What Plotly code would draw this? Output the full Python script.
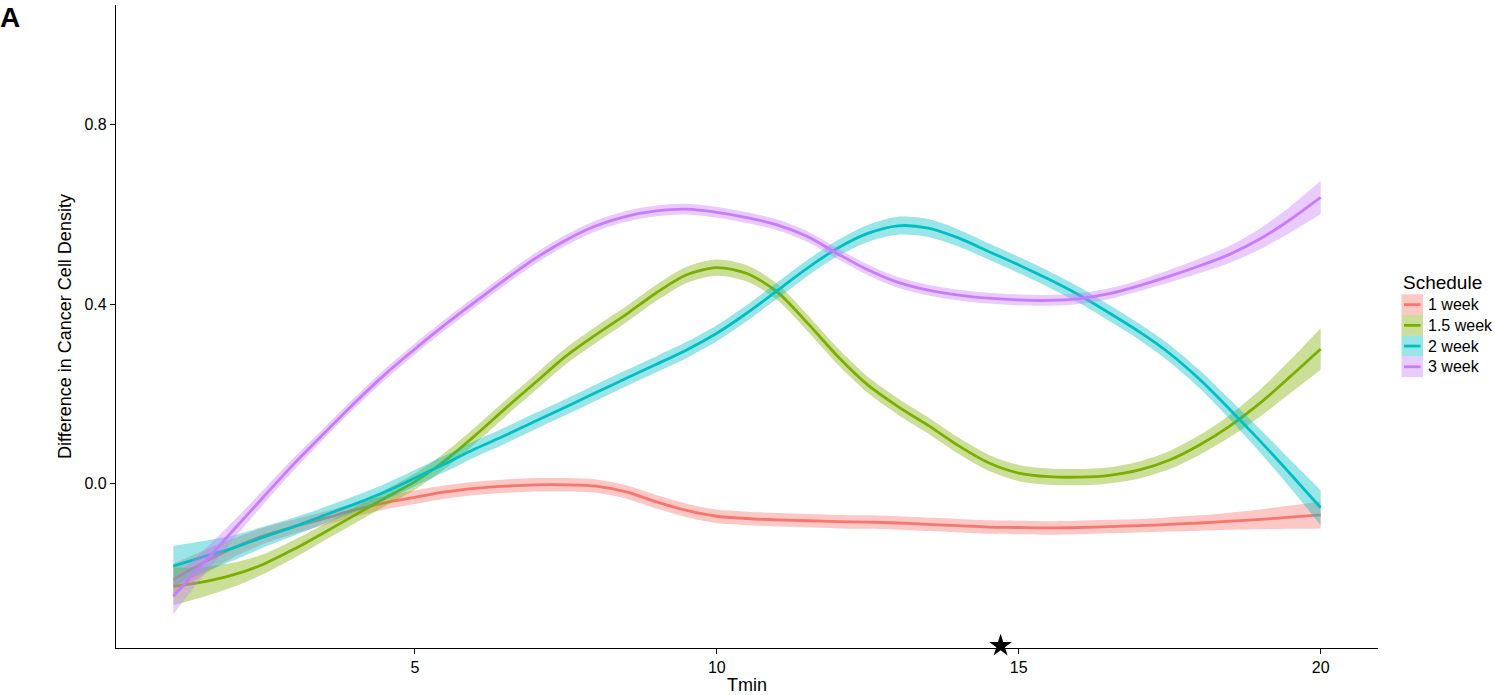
import plotly.graph_objects as go

# ---- data: smoothed difference in cancer cell density vs Tmin, per schedule ----
tmin = [1.0, 1.5, 2.0, 2.5, 3.0, 3.5, 4.0, 4.5, 5.0, 5.5, 6.0, 6.5, 7.0, 7.5,
        8.0, 8.5, 9.0, 9.5, 10.0, 10.5, 11.0, 11.5, 12.0, 12.5, 13.0, 13.5,
        14.0, 14.5, 15.0, 15.5, 16.0, 16.5, 17.0, 17.5, 18.0, 18.5, 19.0,
        19.5, 20.0]

schedules = ["1 week", "1.5 week", "2 week", "3 week"]

fit_1wk = [-0.213, -0.175, -0.142, -0.115, -0.095, -0.077, -0.058, -0.042,
           -0.030, -0.018, -0.010, -0.005, -0.002, -0.002, -0.005, -0.018,
           -0.040, -0.059, -0.072, -0.077, -0.080, -0.082, -0.084, -0.085,
           -0.087, -0.090, -0.093, -0.096, -0.097, -0.098, -0.097, -0.095,
           -0.093, -0.090, -0.087, -0.083, -0.079, -0.074, -0.069]
fit_15wk = [-0.228, -0.218, -0.202, -0.178, -0.145, -0.108, -0.070, -0.032,
            0.005, 0.052, 0.108, 0.168, 0.226, 0.284, 0.332, 0.377, 0.425,
            0.465, 0.481, 0.468, 0.427, 0.358, 0.284, 0.220, 0.172, 0.130,
            0.085, 0.047, 0.024, 0.016, 0.015, 0.019, 0.031, 0.053, 0.087,
            0.129, 0.180, 0.239, 0.300]
fit_2wk = [-0.183, -0.162, -0.142, -0.118, -0.095, -0.070, -0.045, -0.018,
           0.013, 0.045, 0.078, 0.108, 0.140, 0.171, 0.203, 0.235, 0.266,
           0.298, 0.335, 0.380, 0.430, 0.480, 0.524, 0.557, 0.574, 0.569,
           0.547, 0.517, 0.487, 0.455, 0.420, 0.380, 0.338, 0.290, 0.232,
           0.165, 0.095, 0.022, -0.053]
fit_3wk = [-0.250, -0.176, -0.102, -0.028, 0.045, 0.113, 0.180, 0.243,
           0.300, 0.354, 0.405, 0.455, 0.502, 0.542, 0.574, 0.595, 0.607,
           0.611, 0.604, 0.592, 0.576, 0.550, 0.512, 0.476, 0.448, 0.431,
           0.420, 0.413, 0.409, 0.408, 0.412, 0.423, 0.441, 0.462, 0.485,
           0.511, 0.545, 0.588, 0.637]

# half-widths of the confidence bands
se_1wk = [0.035, 0.027, 0.021, 0.018, 0.016, 0.015, 0.015, 0.015, 0.015,
          0.015, 0.015, 0.015, 0.015, 0.015, 0.015, 0.015, 0.015, 0.015,
          0.015, 0.015, 0.015, 0.015, 0.015, 0.015, 0.015, 0.015, 0.015,
          0.015, 0.015, 0.015, 0.015, 0.015, 0.015, 0.016, 0.017, 0.019,
          0.022, 0.026, 0.030]
se_15wk = [0.042, 0.033, 0.027, 0.022, 0.020, 0.018, 0.018, 0.018, 0.018,
           0.018, 0.018, 0.018, 0.018, 0.018, 0.018, 0.018, 0.018, 0.018,
           0.018, 0.018, 0.018, 0.018, 0.018, 0.018, 0.018, 0.018, 0.018,
           0.018, 0.018, 0.018, 0.018, 0.018, 0.019, 0.020, 0.022, 0.025,
           0.030, 0.037, 0.046]
se_2wk = [0.045, 0.035, 0.028, 0.023, 0.020, 0.018, 0.018, 0.018, 0.018,
          0.018, 0.018, 0.018, 0.018, 0.018, 0.018, 0.018, 0.018, 0.018,
          0.018, 0.018, 0.018, 0.018, 0.018, 0.019, 0.020, 0.020, 0.019,
          0.018, 0.018, 0.018, 0.018, 0.018, 0.018, 0.019, 0.020, 0.022,
          0.026, 0.031, 0.039]
se_3wk = [0.040, 0.028, 0.020, 0.016, 0.014, 0.012, 0.012, 0.012, 0.012,
          0.012, 0.012, 0.012, 0.012, 0.012, 0.012, 0.012, 0.012, 0.012,
          0.012, 0.012, 0.012, 0.012, 0.012, 0.012, 0.012, 0.012, 0.012,
          0.012, 0.012, 0.012, 0.012, 0.012, 0.012, 0.014, 0.016, 0.019,
          0.023, 0.029, 0.037]

star_tmin = 14.7
star_y = -0.36

y_ticks = [0.0, 0.4, 0.8]
y_ticktext = ["0.0", "0.4", "0.8"]
x_ticks = [5, 10, 15, 20]

# ---- styling ----
line_colors = ["#F8766D", "#7CAE00", "#00BFC4", "#C77CFF"]
band_colors = ["rgba(248,118,109,0.4)", "rgba(124,174,0,0.4)",
               "rgba(0,191,196,0.4)", "rgba(199,124,255,0.4)"]
FONT = "Liberation Sans, Arial, Helvetica, sans-serif"
SPLINE = dict(shape="spline", smoothing=0.8)

W, H = 1494, 695
PLOT_L, PLOT_R, PLOT_T, PLOT_B = 116, 1378, 5, 648


def px_x(px):
    return (px - PLOT_L) / (PLOT_R - PLOT_L)


def px_y(py):
    return (PLOT_B - py) / (PLOT_B - PLOT_T)


fits = [fit_1wk, fit_15wk, fit_2wk, fit_3wk]
ses = [se_1wk, se_15wk, se_2wk, se_3wk]

fig = go.Figure()
for name, fit, se, lc, bc in zip(schedules, fits, ses, line_colors, band_colors):
    lower = [m - s for m, s in zip(fit, se)]
    upper = [m + s for m, s in zip(fit, se)]
    fig.add_trace(go.Scatter(x=tmin, y=lower, mode="lines",
                             line=dict(width=0, **SPLINE),
                             showlegend=False, hoverinfo="skip"))
    fig.add_trace(go.Scatter(x=tmin, y=upper, mode="lines", fill="tonexty",
                             fillcolor=bc, line=dict(width=0, **SPLINE),
                             showlegend=False, hoverinfo="skip"))
    fig.add_trace(go.Scatter(x=tmin, y=fit, mode="lines", name=name,
                             line=dict(color=lc, width=2.8, **SPLINE),
                             showlegend=False))

fig.add_trace(go.Scatter(x=[star_tmin], y=[star_y], mode="markers",
                         marker=dict(symbol="star", size=17, color="black"),
                         cliponaxis=False, showlegend=False))

# ---- legend drawn by hand (ggplot-style keys) ----
shapes = []
annotations = []
key_l, key_r = 1401.5, 1423
key_top, key_h = 294.3, 20.7
for i, (name, lc, bc) in enumerate(zip(schedules, line_colors, band_colors)):
    top = key_top + i * key_h
    bot = top + key_h
    mid = (top + bot) / 2
    shapes.append(dict(type="rect", xref="paper", yref="paper",
                       x0=px_x(key_l), x1=px_x(key_r),
                       y0=px_y(bot), y1=px_y(top),
                       fillcolor=bc, line=dict(width=0), layer="above"))
    shapes.append(dict(type="line", xref="paper", yref="paper",
                       x0=px_x(key_l + 2.5), x1=px_x(key_r - 2.5),
                       y0=px_y(mid), y1=px_y(mid),
                       line=dict(color=lc, width=2.8), layer="above"))
    annotations.append(dict(text=name, xref="paper", yref="paper",
                            x=px_x(1426), y=px_y(mid), xanchor="left",
                            yanchor="middle", showarrow=False,
                            font=dict(family=FONT, size=16, color="black")))

annotations.append(dict(text="Schedule", xref="paper", yref="paper",
                        x=px_x(1401), y=px_y(282), xanchor="left",
                        yanchor="middle", showarrow=False,
                        font=dict(family=FONT, size=19, color="black")))
annotations.append(dict(text="<b>A</b>", xref="paper", yref="paper",
                        x=px_x(-2), y=px_y(0), xanchor="left",
                        yanchor="top", showarrow=False,
                        font=dict(family=FONT, size=28, color="black")))

fig.update_layout(
    width=W, height=H,
    margin=dict(l=PLOT_L, r=W - PLOT_R, t=PLOT_T, b=H - PLOT_B, pad=0,
                autoexpand=False),
    paper_bgcolor="white", plot_bgcolor="white",
    font=dict(family=FONT, color="black"),
    shapes=shapes, annotations=annotations,
    showlegend=False,
    xaxis=dict(range=[0.05, 20.95], tickvals=x_ticks, ticks="outside",
               ticklen=5, tickwidth=1, tickcolor="black",
               showline=True, linecolor="black", linewidth=1.2,
               showgrid=False, zeroline=False, automargin=False,
               tickfont=dict(family=FONT, size=16, color="black"),
               title=dict(text="Tmin", standoff=4,
                          font=dict(family=FONT, size=18, color="black"))),
    yaxis=dict(range=[-0.365, 1.065], tickvals=y_ticks, ticktext=y_ticktext,
               ticks="outside", ticklen=5, tickwidth=1, tickcolor="black",
               showline=True, linecolor="black", linewidth=1.2,
               showgrid=False, zeroline=False, automargin=False,
               tickfont=dict(family=FONT, size=16, color="black"),
               title=dict(text="Difference in Cancer Cell Density", standoff=8,
                          font=dict(family=FONT, size=18, color="black"))),
)

fig.write_html("out.html")
